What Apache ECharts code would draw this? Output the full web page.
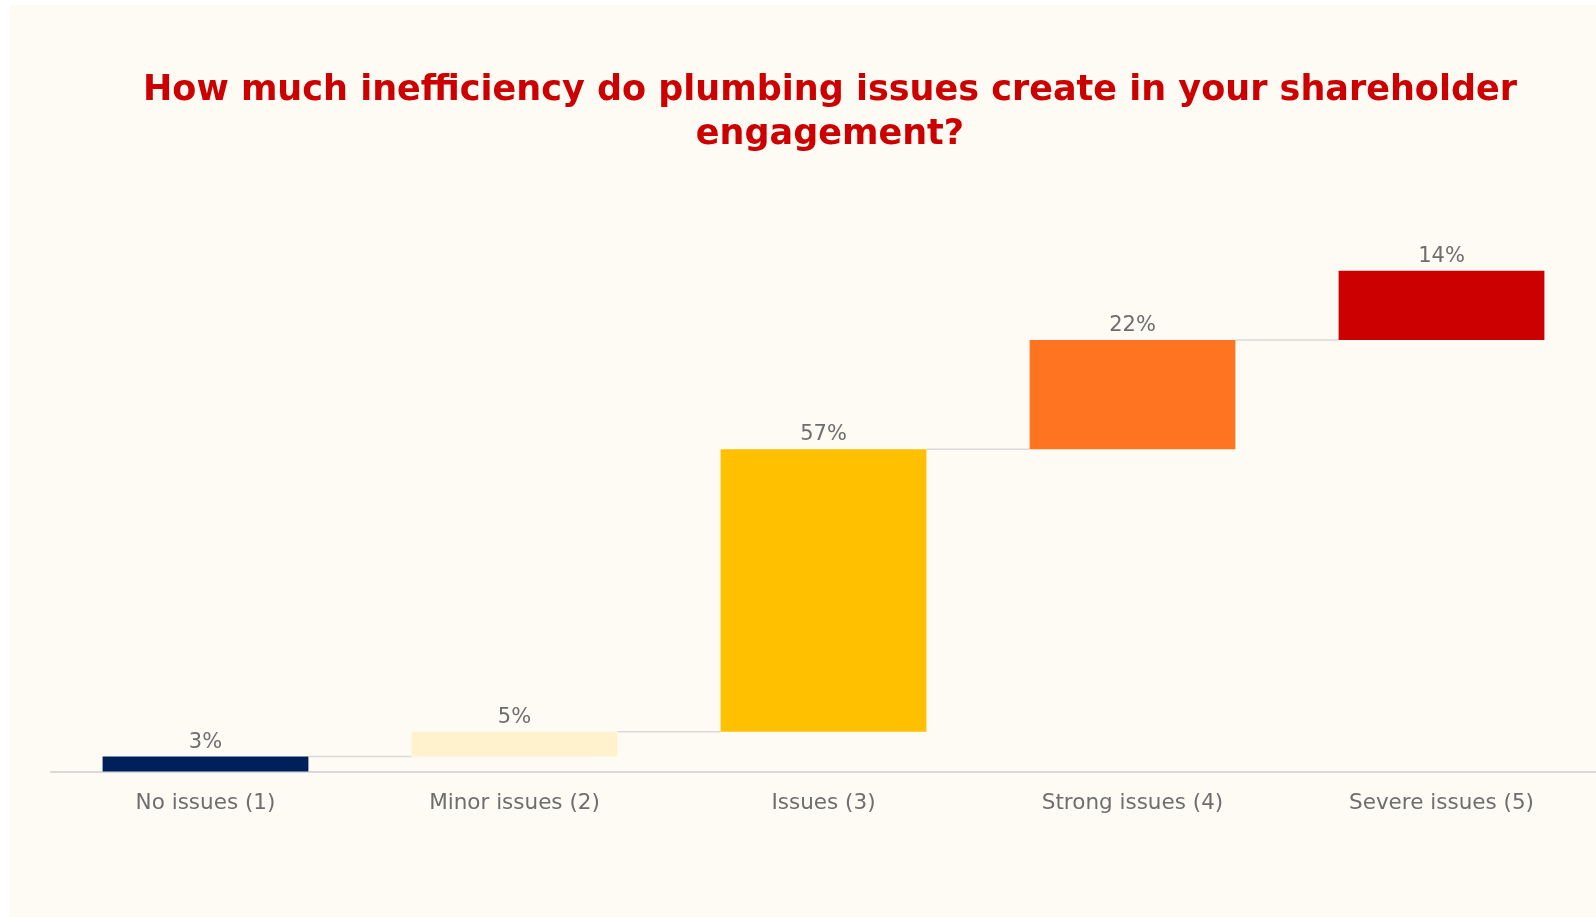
<!DOCTYPE html>
<html>
<head>
<meta charset="utf-8">
<script src="https://cdn.jsdelivr.net/npm/echarts@6/dist/echarts.min.js"></script>
<style>
  html, body { margin: 0; padding: 0; background: #ffffff; }
  #panel { position: absolute; left: 10px; top: 5px; width: 1586px; height: 912px; background: #fdfbf3; }
  #chart { position: absolute; left: 0; top: 0; width: 1596px; height: 917px; }
</style>
</head>
<body>
<div id="panel"></div>
<div id="chart"></div>
<script>
// Survey answers, share of respondents in percent
const categories = ['No issues (1)', 'Minor issues (2)', 'Issues (3)', 'Strong issues (4)', 'Severe issues (5)'];
const shares = [3, 5, 57, 22, 14];
const barColors = ['#00205b', '#fff2cc', '#ffc000', '#ff7420', '#cc0000'];
const titleText = 'How much inefficiency do plumbing issues create in your shareholder\nengagement?';

// Waterfall: each bar starts where the previous one ended
const bases = [];
let running = 0;
shares.forEach(v => { bases.push(running); running += v; });
const tops = shares.map((v, i) => bases[i] + v);

const chart = echarts.init(document.getElementById('chart'), null, { renderer: 'canvas' });

const labelFont = 'DejaVu Sans, sans-serif';

chart.setOption({
  backgroundColor: 'transparent',
  animation: false,
  title: {
    text: titleText,
    left: 825,
    top: 64,
    textAlign: 'center',
    textStyle: {
      color: '#cc0000',
      fontSize: 35,
      fontWeight: 'bold',
      fontFamily: 'DejaVu Sans, sans-serif',
      lineHeight: 44
    }
  },
  grid: { left: 51, right: 0, top: 226, bottom: 145.5, containLabel: false },
  xAxis: {
    type: 'category',
    data: categories,
    axisLine: { show: true, lineStyle: { color: '#d9d9d9', width: 2 } },
    axisTick: { show: false },
    axisLabel: { color: '#6e6e6e', fontSize: 21.5, fontFamily: labelFont, margin: 21 },
    splitLine: { show: false }
  },
  yAxis: {
    type: 'value',
    min: 0,
    max: 110,
    show: false
  },
  series: [
    {
      name: 'base',
      type: 'bar',
      stack: 'fall',
      barCategoryGap: '33.4%',
      itemStyle: { color: 'transparent' },
      emphasis: { disabled: true },
      data: bases,
      z: 2
    },
    {
      name: 'share',
      type: 'bar',
      stack: 'fall',
      barCategoryGap: '33.4%',
      data: shares.map((v, i) => ({ value: v, itemStyle: { color: barColors[i] } })),
      label: {
        show: true,
        position: 'top',
        distance: 4,
        color: '#6e6e6e',
        fontSize: 21,
        fontFamily: labelFont,
        formatter: p => p.value + '%'
      },
      z: 3
    },
    {
      // Connector lines from the top of one bar to the start of the next
      name: 'connectors',
      type: 'custom',
      data: tops.slice(0, -1).map((t, i) => [i, t]),
      renderItem: function (params, api) {
        const i = api.value(0);
        const level = api.value(1);
        const a = api.coord([i, level]);
        const b = api.coord([i + 1, level]);
        const band = api.size([1, 0])[0];
        const half = band * 0.333;
        return {
          type: 'line',
          shape: { x1: a[0] + half, y1: a[1], x2: b[0] - half, y2: b[1] },
          style: { stroke: '#d9d9d9', lineWidth: 1.5 }
        };
      },
      z: 1
    }
  ]
});
</script>
</body>
</html>
